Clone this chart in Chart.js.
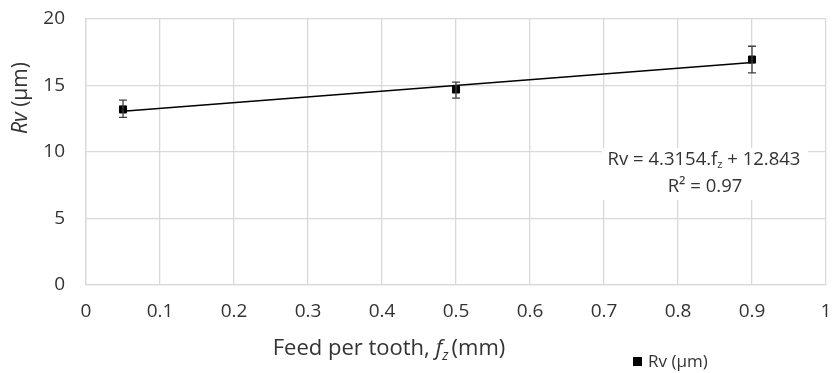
<!DOCTYPE html>
<html lang="en">
<head>
<meta charset="UTF-8" />
<title>Rv vs feed per tooth</title>
<style>
  body { margin: 0; background: #fff; }
  #wrap { width: 835px; height: 373px; }
</style>
</head>
<body>
<div id="wrap"><canvas id="rvChart" width="835" height="373"></canvas></div>
<script src="https://cdn.jsdelivr.net/npm/chart.js@4.4.0/dist/chart.umd.min.js"></script>
<script>
const feed = [0.05, 0.5, 0.9];
const rvMean = [13.2, 14.7, 16.95];
const rvLow = [12.6, 14.05, 15.95];
const rvHigh = [13.9, 15.25, 17.95];

// linear trendline endpoints (from the equation in the figure)
const trendX = [0.05, 0.9];
const trendY = [13.06, 16.73];

const xTicks = [0, 0.1, 0.2, 0.3, 0.4, 0.5, 0.6, 0.7, 0.8, 0.9, 1];
const yTicks = [0, 5, 10, 15, 20];

const FONT = "'Open Sans', 'Noto Sans', sans-serif";
const GRID = '#d9d9d9';
const TEXT = '#333333';

// error bars + text annotations
const extras = {
  id: 'extras',
  afterDatasetsDraw(chart) {
    const { ctx, scales: { x, y } } = chart;
    ctx.save();
    ctx.strokeStyle = '#404040';
    ctx.lineWidth = 1.3;
    for (let i = 0; i < feed.length; i++) {
      const px = x.getPixelForValue(feed[i]);
      const top = y.getPixelForValue(rvHigh[i]);
      const bot = y.getPixelForValue(rvLow[i]);
      ctx.beginPath();
      ctx.moveTo(px, top); ctx.lineTo(px, bot);
      ctx.moveTo(px - 4, top); ctx.lineTo(px + 4, top);
      ctx.moveTo(px - 4, bot); ctx.lineTo(px + 4, bot);
      ctx.stroke();
    }
    ctx.restore();
  },
  afterDraw(chart) {
    const { ctx } = chart;
    ctx.save();
    ctx.textBaseline = 'middle';

    // equation label with white background
    ctx.fillStyle = '#fff';
    ctx.fillRect(602, 148, 206, 52);
    ctx.fillStyle = TEXT;
    const p1 = 'Rv = 4.3154.f', p2 = ' + 12.843';
    ctx.font = '18.5px ' + FONT;
    const w1 = ctx.measureText(p1).width;
    ctx.font = '11px ' + FONT;
    const ws = ctx.measureText('z').width;
    ctx.font = '18.5px ' + FONT;
    const w2 = ctx.measureText(p2).width;
    const sx = 704 - (w1 + ws + w2) / 2;
    ctx.textAlign = 'left';
    ctx.fillText(p1, sx, 160);
    ctx.font = '11px ' + FONT;
    ctx.fillText('z', sx + w1, 165);
    ctx.font = '18.5px ' + FONT;
    ctx.fillText(p2, sx + w1 + ws, 160);
    ctx.textAlign = 'center';
    ctx.fillText('R² = 0.97', 705, 187);

    // x axis title: Feed per tooth, f_z (mm)
    const t1 = 'Feed per tooth, ', t3 = '(mm)';
    ctx.font = '22px ' + FONT;
    const a = ctx.measureText(t1).width;
    const c = ctx.measureText(t3).width;
    ctx.font = 'italic 22px ' + FONT;
    const b = ctx.measureText('f').width;
    ctx.font = 'italic 14px ' + FONT;
    const bz = ctx.measureText('z').width + 3;
    const tx = 389 - (a + b + bz + c) / 2;
    ctx.textAlign = 'left';
    ctx.font = '22px ' + FONT;
    ctx.fillText(t1, tx, 349);
    ctx.font = 'italic 22px ' + FONT;
    ctx.fillText('f', tx + a, 349);
    ctx.font = 'italic 14px ' + FONT;
    ctx.fillText('z', tx + a + b, 356);
    ctx.font = '22px ' + FONT;
    ctx.fillText(t3, tx + a + b + bz, 349);

    // y axis title: Rv (µm), rotated
    ctx.translate(21, 98);
    ctx.rotate(-Math.PI / 2);
    ctx.font = 'italic 21px ' + FONT;
    const r1 = ctx.measureText('Rv').width;
    ctx.font = '21px ' + FONT;
    const r2 = ctx.measureText(' (µm)').width;
    const ry = -(r1 + r2) / 2;
    ctx.font = 'italic 21px ' + FONT;
    ctx.fillText('Rv', ry, 0);
    ctx.font = '21px ' + FONT;
    ctx.fillText(' (µm)', ry + r1, 0);
    ctx.setTransform(1, 0, 0, 1, 0, 0);

    // legend
    ctx.fillStyle = '#000';
    ctx.fillRect(633, 357, 9, 9);
    ctx.fillStyle = TEXT;
    ctx.font = '17px ' + FONT;
    ctx.fillText('Rv (µm)', 648, 362);
    ctx.restore();
  }
};

new Chart(document.getElementById('rvChart'), {
  type: 'scatter',
  data: {
    datasets: [
      {
        label: 'trend',
        data: trendX.map((v, i) => ({ x: v, y: trendY[i] })),
        showLine: true,
        borderColor: '#000',
        borderWidth: 1.5,
        pointRadius: 0
      },
      {
        label: 'Rv (µm)',
        data: feed.map((v, i) => ({ x: v, y: rvMean[i] })),
        pointStyle: 'rect',
        pointRadius: 5,
        backgroundColor: '#000',
        borderColor: '#000'
      }
    ]
  },
  options: {
    responsive: false,
    animation: false,
    layout: { padding: { top: 19, right: 9, left: 0, bottom: 0 } },
    plugins: { legend: { display: false }, tooltip: { enabled: false } },
    scales: {
      x: {
        type: 'linear',
        min: 0, max: 1,
        afterBuildTicks: s => { s.ticks = xTicks.map(v => ({ value: v })); },
        afterFit: s => { s.height = 88; s.paddingLeft = 0; s.paddingRight = 0; },
        grid: { color: GRID, lineWidth: 1.3, drawTicks: false },
        border: { color: GRID, width: 1.3 },
        ticks: {
          color: TEXT, font: { family: FONT, size: 19 }, padding: 15, maxRotation: 0,
          callback: v => String(Math.round(v * 10) / 10)
        }
      },
      y: {
        min: 0, max: 20,
        afterBuildTicks: s => { s.ticks = yTicks.map(v => ({ value: v })); },
        afterFit: s => { s.width = 86; s.paddingTop = 0; s.paddingBottom = 0; },
        grid: { color: GRID, lineWidth: 1.3, drawTicks: false },
        border: { color: GRID, width: 1.3 },
        ticks: { color: TEXT, font: { family: FONT, size: 19 }, padding: 21 }
      }
    }
  },
  plugins: [extras]
});
</script>
</body>
</html>
